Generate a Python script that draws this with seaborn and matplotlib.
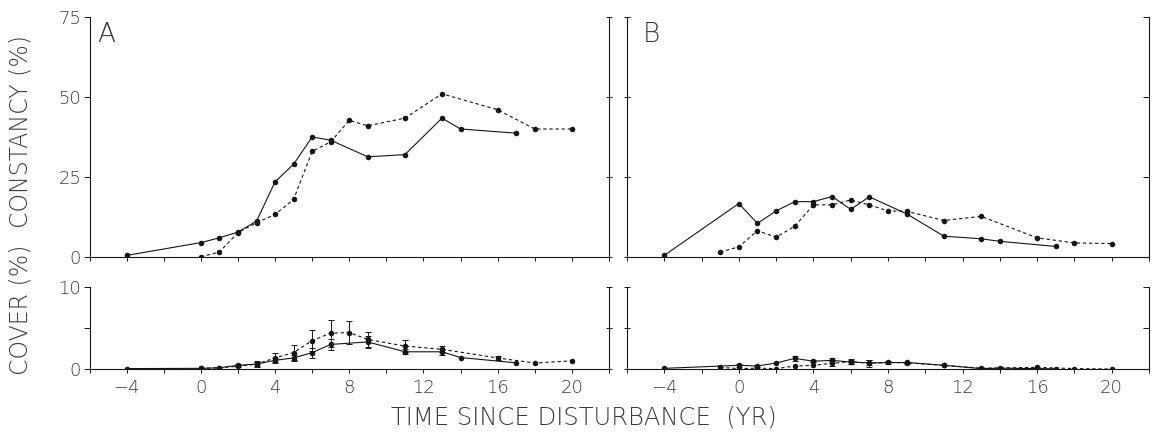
import matplotlib
matplotlib.use("Agg")
import matplotlib.pyplot as plt
from matplotlib.ticker import NullLocator
import numpy as np
import pandas as pd
import seaborn as sns

# ---- data ----
# panel A, constancy (%)
a_con_solid_x = [-4, 0, 1, 2, 3, 4, 5, 6, 7, 9, 11, 13, 14, 17]
a_con_solid_y = [0.5, 4.5, 6.0, 7.8, 11.2, 23.5, 29.0, 37.5, 36.5, 31.3, 32.0, 43.4, 40.0, 38.7]
a_con_dash_x = [0, 1, 2, 3, 4, 5, 6, 7, 8, 9, 11, 13, 16, 18, 20]
a_con_dash_y = [0.0, 1.6, 7.6, 10.7, 13.3, 18.0, 33.0, 36.0, 42.7, 41.0, 43.4, 51.0, 46.0, 40.0, 40.0]

# panel A, cover (%)
a_cov_solid_x = [-4, 0, 1, 2, 3, 4, 5, 6, 7, 9, 11, 13, 14, 17]
a_cov_solid_y = [0.05, 0.08, 0.15, 0.45, 0.6, 1.06, 1.35, 2.0, 3.0, 3.3, 2.1, 2.1, 1.4, 0.75]
a_cov_solid_err = [0, 0, 0, 0.1, 0.2, 0.3, 0.35, 0.6, 0.7, 0.7, 0.3, 0.4, 0, 0]
a_cov_dash_x = [0, 1, 2, 3, 4, 5, 6, 7, 8, 9, 11, 13, 16, 18, 20]
a_cov_dash_y = [0.08, 0.15, 0.33, 0.6, 1.35, 2.0, 3.47, 4.37, 4.45, 3.6, 2.8, 2.4, 1.35, 0.73, 1.0]
a_cov_dash_err = [0, 0, 0.1, 0.4, 0.55, 0.9, 1.3, 1.65, 1.4, 0.9, 0.7, 0.35, 0.25, 0, 0]

# panel B, constancy (%)
b_con_solid_x = [-4, 0, 1, 2, 3, 4, 5, 6, 7, 9, 11, 13, 14, 17]
b_con_solid_y = [0.5, 16.7, 10.5, 14.4, 17.3, 17.3, 18.9, 14.9, 18.8, 13.5, 6.5, 5.7, 4.9, 3.3]
b_con_dash_x = [-1, 0, 1, 2, 3, 4, 5, 6, 7, 8, 9, 11, 13, 16, 18, 20]
b_con_dash_y = [1.5, 3.2, 8.2, 6.2, 9.6, 16.3, 16.3, 17.8, 16.3, 14.4, 14.3, 11.4, 12.7, 6.0, 4.4, 4.2]

# panel B, cover (%)
b_cov_solid_x = [-4, 0, 1, 2, 3, 4, 5, 6, 7, 9, 11, 13, 14, 17]
b_cov_solid_y = [0.08, 0.45, 0.37, 0.73, 1.3, 0.95, 1.05, 0.85, 0.75, 0.8, 0.45, 0.05, 0.1, 0.02]
b_cov_solid_err = [0, 0.15, 0.1, 0, 0.3, 0.1, 0.3, 0.2, 0.3, 0.1, 0, 0, 0, 0]
b_cov_dash_x = [-1, 0, 1, 2, 3, 4, 5, 6, 7, 8, 9, 11, 13, 16, 18, 20]
b_cov_dash_y = [0.2, 0.05, 0.1, 0.05, 0.35, 0.45, 0.7, 0.9, 0.7, 0.8, 0.75, 0.45, 0.1, 0.2, 0.05, 0.0]
b_cov_dash_err = [0, 0, 0, 0, 0, 0, 0.3, 0.35, 0.4, 0.2, 0.15, 0, 0, 0, 0, 0]

year_labels = [-4, 0, 4, 8, 12, 16, 20]
con_ticks = [0, 25, 50, 75]
cov_ticks = [0, 10]

INK = "#151515"
TXT = "#3a3a3a"

sns.set_theme(style="ticks")
plt.rcParams["font.family"] = ["DejaVu Sans"]
plt.rcParams["font.weight"] = "light"
plt.rcParams["axes.linewidth"] = 0.8


def draw_series(ax, sx, sy, dx, dy, serr=None, derr=None):
    df = pd.concat([
        pd.DataFrame({"yr": sx, "val": sy, "set": "solid"}),
        pd.DataFrame({"yr": dx, "val": dy, "set": "dashed"}),
    ], ignore_index=True)
    sns.lineplot(data=df, x="yr", y="val", style="set",
                 dashes={"solid": "", "dashed": (3, 2.5)},
                 markers={"solid": "o", "dashed": "o"},
                 color=INK, lw=0.8, markersize=4, markeredgewidth=0,
                 errorbar=None, legend=False, ax=ax)
    for xs, ys, es in [(sx, sy, serr), (dx, dy, derr)]:
        if es is None:
            continue
        xs, ys, es = np.array(xs), np.array(ys), np.array(es)
        keep = es > 0
        ax.errorbar(xs[keep], ys[keep], yerr=es[keep], fmt="none", ecolor=INK,
                    elinewidth=0.7, capsize=2, capthick=0.7)


def style_axes(ax, ymax, yticks, minor_y, show_xlabels, show_ylabels, left_dir, right_dir):
    ax.set_xlim(-6, 22)
    ax.set_ylim(0, ymax)
    ax.set_xlabel("")
    ax.set_ylabel("")
    ax.spines["top"].set_visible(False)
    for s in ["left", "right", "bottom"]:
        ax.spines[s].set_color(INK)
    ax.set_xticks(year_labels)
    ax.set_xticks([-6, -2, 2, 6, 10, 14, 18, 22], minor=True)
    ax.set_yticks(yticks)
    if minor_y is not None:
        ax.set_yticks(minor_y, minor=True)
    else:
        ax.yaxis.set_minor_locator(NullLocator())
    ax.tick_params(axis="x", which="both", direction="out", length=3, width=0.7,
                   color=INK, labelsize=13, labelcolor=TXT, pad=4,
                   labelbottom=show_xlabels)
    ax.tick_params(axis="y", which="both", direction=left_dir, length=4.5, width=0.7,
                   color=INK, labelsize=13, labelcolor=TXT, pad=1.5,
                   labelleft=show_ylabels)
    # right-hand spine with its own ticks
    sec = ax.secondary_yaxis("right")
    sec.set_yticks(yticks)
    if minor_y is not None:
        sec.set_yticks(minor_y, minor=True)
    else:
        sec.yaxis.set_minor_locator(NullLocator())
    sec.tick_params(axis="y", which="both", direction=right_dir, length=4.5, width=0.7,
                    color=INK, labelright=False)
    sec.spines["right"].set_color(INK)
    sec.spines["right"].set_linewidth(0.8)
    ax.spines["right"].set_visible(False)


fig = plt.figure(figsize=(11.54, 4.37), dpi=100)

ax_a_top = fig.add_axes([0.0776, 0.4119, 0.4501, 0.5492])
ax_b_top = fig.add_axes([0.5433, 0.4119, 0.4523, 0.5492])
ax_a_bot = fig.add_axes([0.0776, 0.1556, 0.4501, 0.1876])
ax_b_bot = fig.add_axes([0.5433, 0.1556, 0.4523, 0.1876])

draw_series(ax_a_top, a_con_solid_x, a_con_solid_y, a_con_dash_x, a_con_dash_y)
draw_series(ax_b_top, b_con_solid_x, b_con_solid_y, b_con_dash_x, b_con_dash_y)
draw_series(ax_a_bot, a_cov_solid_x, a_cov_solid_y, a_cov_dash_x, a_cov_dash_y,
            a_cov_solid_err, a_cov_dash_err)
draw_series(ax_b_bot, b_cov_solid_x, b_cov_solid_y, b_cov_dash_x, b_cov_dash_y,
            b_cov_solid_err, b_cov_dash_err)

style_axes(ax_a_top, 75, con_ticks, None, False, True, "out", "inout")
style_axes(ax_b_top, 75, con_ticks, None, False, False, "inout", "in")
style_axes(ax_a_bot, 10, cov_ticks, [5], True, True, "out", "inout")
style_axes(ax_b_bot, 10, cov_ticks, [5], True, False, "inout", "in")

ax_a_top.text(-5.6, 73.5, "A", ha="left", va="top", fontsize=19, color=TXT,
              fontweight="light")
ax_b_top.text(-5.15, 73.5, "B", ha="left", va="top", fontsize=19, color=TXT,
              fontweight="light")

fig.text(0.018, 0.70, "CONSTANCY (%)", rotation=90, ha="center", va="center",
         fontsize=17, color=TXT, fontweight="light")
fig.text(0.018, 0.29, "COVER (%)", rotation=90, ha="center", va="center",
         fontsize=17, color=TXT, fontweight="light")
fig.text(0.506, 0.045, "TIME SINCE DISTURBANCE  (YR)", ha="center", va="center",
         fontsize=17.5, color=TXT, fontweight="light")

fig.savefig("out.png", dpi=100, facecolor="white")
